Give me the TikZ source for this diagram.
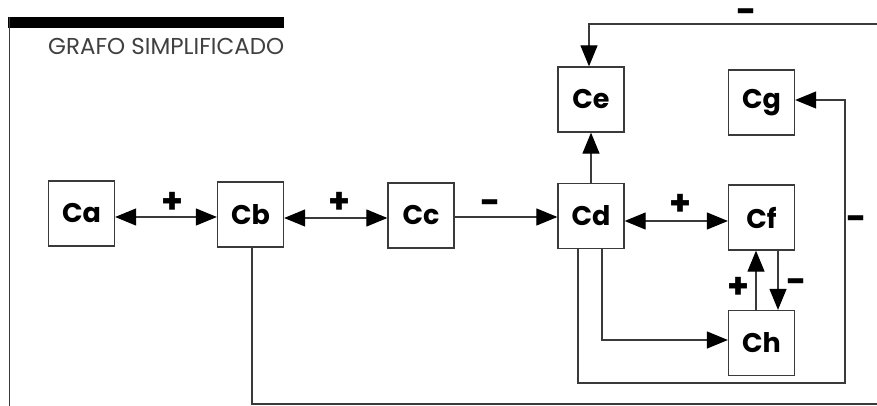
\documentclass[tikz,border=0pt]{standalone}
\usepackage{fontspec}
\newfontfamily\pop{Poppins}
\usetikzlibrary{arrows.meta,calc}
\definecolor{ln}{HTML}{3A3A3A}
\tikzset{
  cbox/.style={draw=ln, line width=1.3pt, minimum width=66pt, minimum height=65pt, inner sep=0pt,
    font=\pop\bfseries\fontsize{27}{28}\selectfont},
  conn/.style={draw=ln, line width=1.2pt},
  arr/.style={-{Triangle[length=21pt,width=17pt,color=black]}},
  darr/.style={{Triangle[length=21pt,width=17pt,color=black]}-{Triangle[length=21pt,width=17pt,color=black]}},
  sgn/.style={font=\pop\bfseries\fontsize{35}{36}\selectfont, inner sep=0pt},
}
\begin{document}
\begin{tikzpicture}[x=1pt,y=-1pt]
\useasboundingbox (0,0) rectangle (877,406);
% header
\fill[black] (8,17) rectangle (284,28);
\draw[ln, line width=1.3pt] (9.5,17) -- (9.5,406);
\node[anchor=base west, inner sep=0pt, text=black!75, font=\pop\fontsize{23}{25}\selectfont] (title) at (48,55) {GRAFO SIMPLIFICADO};
% boxes
\node[cbox] (Ca) at (81.5,213.5) {Ca};
\node[cbox] (Cb) at (250.5,214.5) {Cb};
\node[cbox] (Cc) at (421,215.5) {Cc};
\node[cbox] (Cd) at (591,216) {Cd};
\node[cbox] (Ce) at (591,99.5) {Ce};
\node[cbox] (Cf) at (761.5,217.5) {Cf};
\node[cbox] (Cg) at (761.5,102.5) {Cg};
\node[cbox] (Ch) at (761.5,343) {Ch};
% helper coordinates
\coordinate (y217) at (0,217);
\coordinate (y218) at (0,218);
\coordinate (y221) at (0,221);
\coordinate (y340) at (0,340);
\coordinate (y100) at (0,100);
\coordinate (x578) at (578,0);
\coordinate (x602) at (602,0);
\coordinate (x589) at (589,0);
\coordinate (x756) at (756,0);
\coordinate (x778) at (778,0);
\coordinate (x252) at (252,0);
\coordinate (TR) at (877,24);
\coordinate (BR) at (877,404);
\coordinate (L1) at (845,383);
% connectors
\draw[conn, darr] (Ca.east |- y217) -- (Cb.west |- y217);
\draw[conn, darr] (Cb.east |- y218) -- (Cc.west |- y218);
\draw[conn, arr] (Cc.east |- y217) -- (Cd.west |- y217);
\draw[conn, darr] (Cd.east |- y221) -- (Cf.west |- y221);
\draw[conn, arr] (Cd.north) -- (Ce.south);
\draw[conn, arr] (TR) -| (Ce.north -| x589);
\draw[conn, arr] (Cd.south -| x578) |- (L1) |- (Cg.east |- y100);
\draw[conn, arr] (Cd.south -| x602) |- (Ch.west |- y340);
\draw[conn, arr] (Cf.south -| x778) -- (Ch.north -| x778);
\draw[conn, arr] (Ch.north -| x756) -- (Cf.south -| x756);
\draw[conn] (Cb.south -| x252) |- (BR);
% signs
\node[sgn] (s1) at (172,203) {+};
\node[sgn] (s2) at (339,203) {+};
\node[sgn] (s3) at (491,207) {-};
\node[sgn] (s4) at (680,205) {+};
\node[sgn, anchor=base, text height=13pt, text depth=0pt] (s5) at (747,24) {-};
\node[sgn] (s6) at (857,223) {-};
\node[sgn] (s7) at (797,286) {-};
\node[sgn] (s8) at (738,288) {+};
\end{tikzpicture}
\end{document}
